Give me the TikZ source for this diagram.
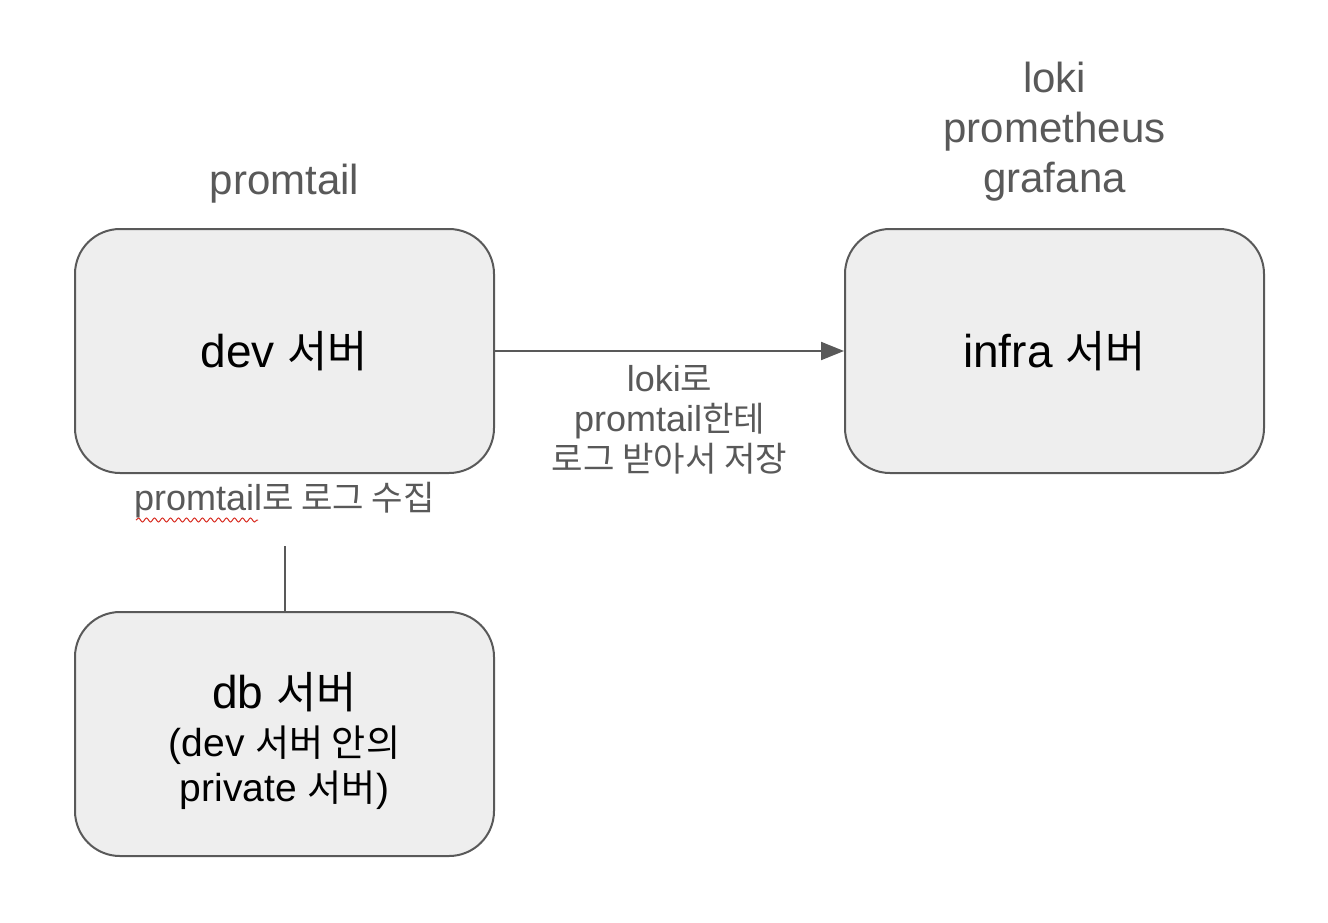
\documentclass[tikz,border=0pt]{standalone}
\usepackage{fontspec}
\setmainfont{Liberation Sans}
\newfontfamily\kr{Noto Sans CJK KR}[Scale=0.95]
\usetikzlibrary{arrows.meta,decorations.pathmorphing}
\definecolor{edgegray}{HTML}{595959}
\definecolor{boxfill}{HTML}{EEEEEE}
\definecolor{spellred}{HTML}{D93025}
\begin{document}
\begin{tikzpicture}[x=1pt,y=-1pt,
  server/.style={draw=edgegray, fill=boxfill, line width=2pt, rounded corners=45pt,
    minimum width=419pt, minimum height=244pt, inner sep=0pt, align=center,
    font=\fontsize{46}{54}\selectfont},
  lbl/.style={text=edgegray, align=center, inner sep=0pt},
  big/.style={font=\fontsize{42}{50}\selectfont},
  small/.style={font=\fontsize{36}{40}\selectfont},
  conn/.style={draw=edgegray, line width=2pt},
  squiggle/.style={draw=spellred, line width=1pt,
    decorate, decoration={snake, segment length=8pt, amplitude=2pt}}]
\useasboundingbox[fill=white] (0,0) rectangle (1328,922);

\node[server] (dev) at (284.5,351) {dev {\kr 서버}};
\node[server] (infra) at (1054.5,351) {infra {\kr 서버}};
\node[server, font=\fontsize{39}{45}\selectfont] (db) at (284.5,734)
  {\rule{0pt}{50pt}{\fontsize{46}{54}\selectfont db {\kr 서버}}\\[3pt]
   (dev {\kr 서버 안의}\\
   private {\kr 서버})};

\node[lbl, big, anchor=base] (devtop) at (284.5,194) {promtail};
\node[lbl, big] (infratop) at (1054.5,131.5)
  {loki\\prometheus\\grafana};

\draw[conn, -{Triangle[length=23pt,width=18pt]}] (dev.east) -- (infra.west)
  node[midway, below=13pt, lbl, small] (arrowlbl)
  {loki{\kr 로}\\promtail{\kr 한테}\\{\kr 로그 받아서 저장}};

\node[lbl, small, anchor=base] (devbot) at (284.5,510) {promtail{\kr 로 로그 수집}};
\coordinate (tap) at (284.5,546);
\draw[conn] (tap) -- (db.north);

\draw[squiggle] (136,520) -- (258,520);
\end{tikzpicture}
\end{document}
